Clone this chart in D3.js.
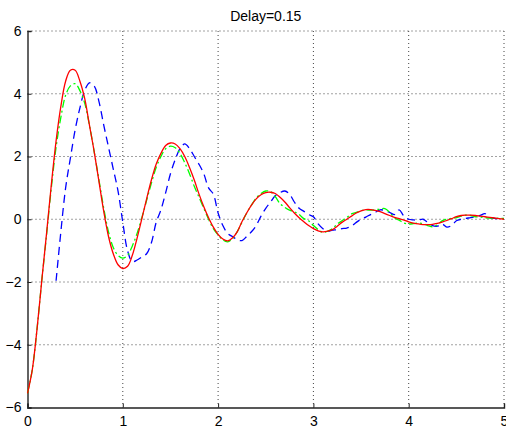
<!DOCTYPE html>
<html><head><meta charset="utf-8">
<script src="https://cdn.jsdelivr.net/npm/d3@7"></script>
<style>body{margin:0;background:#fff}svg{display:block}text{font-family:"Liberation Sans",Arial,Helvetica,sans-serif}</style>
</head><body><svg id="c" width="506" height="428"></svg>
<script>
const title = "Delay=0.15";
const xTicks = [0,1,2,3,4,5];
const yTicks = [-6,-4,-2,0,2,4,6];
const step = 0.05;
// red solid
const redY = [-5.55,-4.8,-3.5,-1.95,-0.45,1.1,2.5,3.6,4.4,4.75,4.75,4.4,3.85,3.0,2.15,1.2,0.25,-0.55,-1.1,-1.45,
-1.57,-1.5,-1.15,-0.6,0.02,0.65,1.25,1.75,2.1,2.35,2.43,2.4,2.25,2.0,1.65,1.25,0.8,0.4,0.05,-0.25,
-0.48,-0.63,-0.69,-0.6,-0.4,-0.08,0.2,0.45,0.65,0.78,0.85,0.86,0.82,0.7,0.55,0.37,0.2,0.05,-0.08,-0.2,
-0.3,-0.37,-0.4,-0.38,-0.33,-0.22,-0.1,0.0,0.1,0.2,0.27,0.31,0.31,0.28,0.24,0.18,0.12,0.06,0.02,-0.03,
-0.08,-0.12,-0.15,-0.17,-0.17,-0.16,-0.13,-0.09,-0.04,0.02,0.08,0.12,0.13,0.13,0.12,0.1,0.08,0.06,0.04,0.02,0.0];
// green dash-dot
const greenY = [-5.55,-4.8,-3.5,-1.95,-0.5,1.0,2.3,3.25,3.95,4.25,4.32,4.1,3.7,3.0,2.15,1.25,0.35,-0.4,-0.9,-1.15,
-1.24,-1.15,-0.85,-0.45,0.05,0.6,1.15,1.65,2.0,2.25,2.33,2.28,2.1,1.8,1.45,1.05,0.7,0.35,0.0,-0.3,
-0.5,-0.66,-0.72,-0.62,-0.4,-0.1,0.2,0.45,0.68,0.82,0.9,0.88,0.72,0.5,0.38,0.29,0.24,0.15,0.02,-0.05,
-0.2,-0.33,-0.42,-0.38,-0.3,-0.15,-0.05,0.05,0.17,0.22,0.27,0.3,0.29,0.3,0.33,0.34,0.22,0.05,-0.03,-0.12,
-0.15,-0.14,-0.12,-0.14,-0.2,-0.24,-0.18,-0.05,0.0,0.03,0.05,0.1,0.13,0.12,0.08,0.07,0.05,0.04,0.04,0.03,0.03];
// blue dashed, starts at t=0.30
const blueStart = 0.30;
const blueY = [-1.96,-0.4,1.0,1.95,2.85,3.55,4.1,4.35,4.25,3.75,3.0,2.3,1.6,0.9,
-0.1,-1.0,-1.35,-1.3,-1.2,-1.1,-0.75,-0.1,0.3,0.85,1.45,1.9,2.25,2.4,2.25,2.0,1.75,1.45,1.0,0.8,
0.2,-0.2,-0.45,-0.55,-0.65,-0.68,-0.55,-0.4,-0.2,0.1,0.35,0.55,0.75,0.85,0.9,0.8,0.55,0.35,0.25,0.15,
0.08,-0.15,-0.3,-0.38,-0.35,-0.33,-0.3,-0.28,-0.22,-0.1,0.0,0.07,0.15,0.22,0.3,0.28,0.22,0.15,0.3,0.1,
0.0,-0.02,-0.03,0.0,-0.1,-0.2,-0.22,-0.15,-0.25,-0.2,-0.05,0.0,0.03,0.05,0.08,0.12,0.18,0.05,0.03,0.02,0.02];

const svg = d3.select("#c");
const L=27.5, R=504, T=31, B=407.5;
const x = d3.scaleLinear().domain([0,5]).range([L,R]);
const y = d3.scaleLinear().domain([-6,6]).range([B,T]);

// grid
const g = svg.append("g");
g.selectAll("line.gx").data(xTicks.filter(d=>d>0)).join("line")
 .attr("x1",d=>x(d)).attr("x2",d=>x(d)).attr("y1",T).attr("y2",B)
 .attr("stroke","#444").attr("stroke-width",1).attr("stroke-dasharray","1,3");
g.selectAll("line.gy").data(yTicks.filter(d=>d>-6)).join("line")
 .attr("y1",d=>y(d)).attr("y2",d=>y(d)).attr("x1",L).attr("x2",R)
 .attr("stroke","#444").attr("stroke-width",1).attr("stroke-dasharray","1,3");

// axes
const xa = svg.append("g").attr("transform",`translate(0,${B})`)
 .call(d3.axisBottom(x).tickValues(xTicks).tickSize(-4).tickPadding(8).tickFormat(d3.format("d")));
const ya = svg.append("g").attr("transform",`translate(${L},0)`)
 .call(d3.axisLeft(y).tickValues(yTicks).tickSize(-4).tickPadding(6).tickFormat(d=>d<0?"\u2212"+Math.abs(d):String(d)));
[xa,ya].forEach(a=>{
 a.select(".domain").attr("stroke","#222").attr("stroke-width",1.4);
 a.selectAll(".tick line").attr("stroke","#222");
 a.selectAll("text").attr("font-size",14).attr("fill","#000").attr("font-family","Liberation Sans, Arial, sans-serif");
});
xa.selectAll("text").attr("dy","0.71em").attr("y",9);

const line = d3.line().x(d=>x(d[0])).y(d=>y(d[1])).curve(d3.curveCatmullRom);
const rd = redY.map((v,i)=>[i*step,v]);
const gd = greenY.map((v,i)=>[i*step,v]);
const bd = blueY.map((v,i)=>[blueStart+i*step,v]);

svg.append("path").datum(bd).attr("d",line).attr("fill","none").attr("stroke","#0000ff").attr("stroke-width",1.3).attr("stroke-dasharray","8,5");
svg.append("path").datum(gd).attr("d",line).attr("fill","none").attr("stroke","#00ff00").attr("stroke-width",1.3).attr("stroke-dasharray","8,3,2,3");
svg.append("path").datum(rd).attr("d",line).attr("fill","none").attr("stroke","#ff0000").attr("stroke-width",1.3);

svg.append("text").attr("x",(L+R)/2).attr("y",21).attr("text-anchor","middle").attr("font-size",14).text(title);
</script></body></html>
